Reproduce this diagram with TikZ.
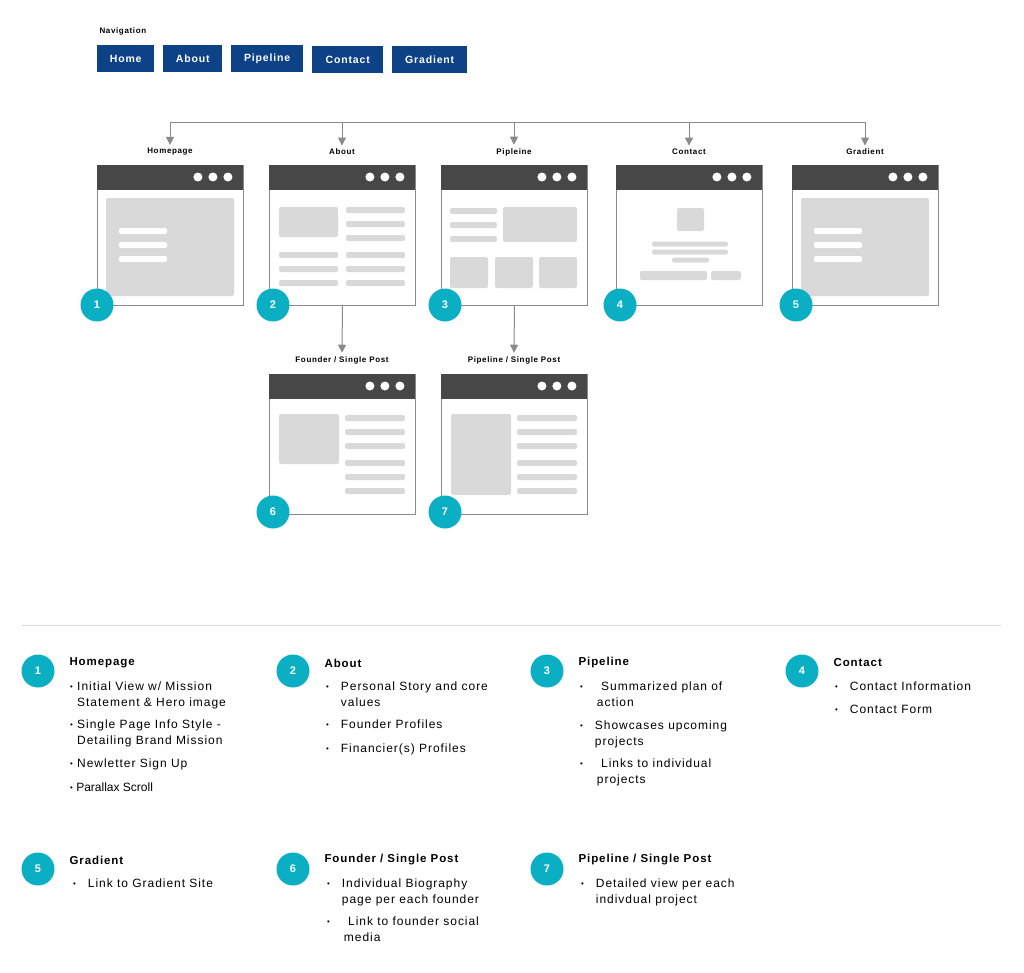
\documentclass[tikz,border=0pt]{standalone}
\usepackage{fontspec}
\setmainfont{Liberation Sans}
\usetikzlibrary{arrows.meta,positioning,calc}
\definecolor{navblue}{HTML}{0E4287}
\definecolor{teal}{HTML}{0AAFC4}
\definecolor{header}{HTML}{474747}
\definecolor{block}{HTML}{D9D9D9}
\definecolor{frame}{HTML}{8A8A8A}
\newfontfamily\wide[LetterSpace=8]{Liberation Sans}
\newcommand\bul{\raisebox{0.2ex}{\scalebox{0.65}{\textbullet}}}
\tikzset{
  navbtn/.style={fill=navblue, text=white, anchor=north west, inner sep=0pt,
    minimum height=27pt, font=\wide\fontsize{10.5}{11}\selectfont\bfseries},
  wintitle/.style={font=\wide\fontsize{8}{9}\selectfont\bfseries},
  win/.style={draw=frame, line width=0.9pt, anchor=north west, minimum width=146pt,
    minimum height=140pt, inner sep=0pt},
  bar/.style={fill=block, rounded corners=2pt},
  light/.style={fill=white, rounded corners=2pt},
  num/.style={circle, fill=teal, text=white, minimum size=33pt, inner sep=0pt,
    font=\fontsize{11}{11}\selectfont\bfseries},
  link/.style={draw=frame, line width=1pt},
  arr/.style={link, -{Triangle[width=8pt,length=8pt]}},
  ltitle/.style={anchor=west, font=\wide\fontsize{11.5}{12}\selectfont\bfseries},
  item/.style={anchor=north west, inner sep=0pt, align=left,
    font=\wide\fontsize{12}{15.5}\selectfont},
}
% browser window: name, left, top
\newcommand\browser[3]{%
  \node[win] (#1) at (#2,#3) {};
  \fill[header] (#1.north west) rectangle ++(146,25);
  \foreach \d in {46,31,16}
    \fill[white] ($(#1.north east)+(-\d,12)$) circle (4.5);
}
\begin{document}
\begin{tikzpicture}[x=1pt,y=-1pt]
\useasboundingbox[fill=white] (0,0) rectangle (1024,972);

% navigation
\node[anchor=west, wintitle] (navlbl) at (96,31) {Navigation};
\node[navbtn, minimum width=57pt] (bhome) at (97,45) {Home};
\node[navbtn, minimum width=59pt] (babout) at (163,45) {About};
\node[navbtn, minimum width=72pt] (bpipe) at (231,45) {Pipeline};
\node[navbtn, minimum width=71pt] (bcontact) at (312,46) {Contact};
\node[navbtn, minimum width=75pt] (bgrad) at (392,46) {Gradient};

% windows
\browser{w1}{97}{165}
\browser{w2}{269}{165}
\browser{w3}{441}{165}
\browser{w4}{616}{165}
\browser{w5}{792}{165}
\browser{w6}{269}{374}
\browser{w7}{441}{374}

% titles
\node[wintitle] (t1) at (170,152) {Homepage};
\node[wintitle] (t2) at (342,152) {About};
\node[wintitle] (t3) at (514,152) {Pipleine};
\node[wintitle] (t4) at (689,152) {Contact};
\node[wintitle] (t5) at (865,152) {Gradient};
\node[wintitle] (t6) at (342,360) {Founder / Single Post};
\node[wintitle] (t7) at (514,360) {Pipeline / Single Post};

% tree
\coordinate (b1) at (170,122);
\coordinate (b5) at (865,122);
\draw[link] (b1) -- (b5);
\foreach \i in {1,...,5}
  \draw[arr] (b1 -| t\i) -- ([yshift=0pt]t\i.north);
\draw[arr] (w2.south) -- ([yshift=0pt]t6.north);
\draw[arr] (w3.south) -- ([yshift=0pt]t7.north);

% homepage
\fill[bar] (106,198) rectangle (234,296);
\foreach \y in {231,245,259} \fill[light] (119,\y-3) rectangle (167,\y+3);
% about
\fill[bar] (279,207) rectangle (338,237);
\foreach \y in {210,224,238} \fill[bar] (346,\y-3) rectangle (405,\y+3);
\foreach \y in {255,269,283} {
  \fill[bar] (279,\y-3) rectangle (338,\y+3);
  \fill[bar] (346,\y-3) rectangle (405,\y+3);
}
% pipeline
\foreach \y in {211,225,239} \fill[bar] (450,\y-3) rectangle (497,\y+3);
\fill[bar] (503,207) rectangle (577,242);
\foreach \x in {450,495,539} \fill[bar] (\x,257) rectangle ++(38,31);
% contact
\fill[bar] (677,208) rectangle (704,231);
\foreach \y in {244,252} \fill[bar] (652,\y-2.5) rectangle (728,\y+2.5);
\fill[bar] (672,257.5) rectangle (709,262.5);
\fill[bar] (640,271) rectangle (707,280);
\fill[bar] (711,271) rectangle (741,280);
% gradient
\fill[bar] (801,198) rectangle (929,296);
\foreach \y in {231,245,259} \fill[light] (814,\y-3) rectangle (862,\y+3);
% founder
\fill[bar] (279,414) rectangle (339,464);
\foreach \y in {418,432,446,463,477,491} \fill[bar] (345,\y-3) rectangle (405,\y+3);
% pipeline single
\fill[bar] (451,414) rectangle (511,495);
\foreach \y in {418,432,446,463,477,491} \fill[bar] (517,\y-3) rectangle (577,\y+3);

% numbers on windows
\foreach \i/\x/\y in {1/97/305,2/273/305,3/445/305,4/620/305,5/796/305,6/273/512,7/445/512}
  \node[num] (n\i) at (\x,\y) {\i};

% separator
\draw[draw=block, line width=1pt] (22,625) -- (1001,625);

% legend
\foreach \i/\x/\y in {1/38/671,2/293/671,3/547/671,4/802/671,5/38/869,6/293/869,7/547/869}
  \node[num] (l\i) at (\x,\y) {\i};
\node[ltitle] (h1) at (66,663) {Homepage};
\node[ltitle] (h2) at (321,663) {About};
\node[ltitle] (h3) at (575,663) {Pipeline};
\node[ltitle] (h4) at (830,663) {Contact};
\node[ltitle] (h5) at (66,860) {Gradient};
\node[ltitle] (h6) at (321,860) {Founder / Single Post};
\node[ltitle] (h7) at (575,860) {Pipeline / Single Post};

\node[item] at (70,682) {\bul\ Initial View w/ Mission\\\phantom{\bul\ }Statement \& Hero image};
\node[item] at (70,720) {\bul\ Single Page Info Style -\\\phantom{\bul\ }Detailing Brand Mission};
\node[item] at (70,759) {\bul\ Newletter Sign Up};
\node[item, font=\fontsize{12}{15.5}\selectfont] at (70,783) {\bul\ Parallax Scroll};

\node[item] at (326,682) {\bul\quad Personal Story and core\\\phantom{\bul\quad}values};
\node[item] at (326,720) {\bul\quad Founder Profiles};
\node[item] at (326,744) {\bul\quad Financier(s) Profiles};

\node[item] at (580,682) {\bul\quad\, Summarized plan of\\\phantom{\bul\quad\,}action};
\node[item] at (580,721) {\bul\quad Showcases upcoming\\\phantom{\bul\quad}projects};
\node[item] at (580,759) {\bul\quad\, Links to individual\\\phantom{\bul\quad\,}projects};

\node[item] at (835,682) {\bul\quad Contact Information};
\node[item] at (835,705) {\bul\quad Contact Form};

\node[item] at (73,879) {\bul\quad Link to Gradient Site};

\node[item] at (327,879) {\bul\quad Individual Biography\\\phantom{\bul\quad}page per each founder};
\node[item] at (327,917) {\bul\quad\, Link to founder social\\\phantom{\bul\quad\,}media};

\node[item] at (581,879) {\bul\quad Detailed view per each\\\phantom{\bul\quad}indivdual project};
\end{tikzpicture}
\end{document}
